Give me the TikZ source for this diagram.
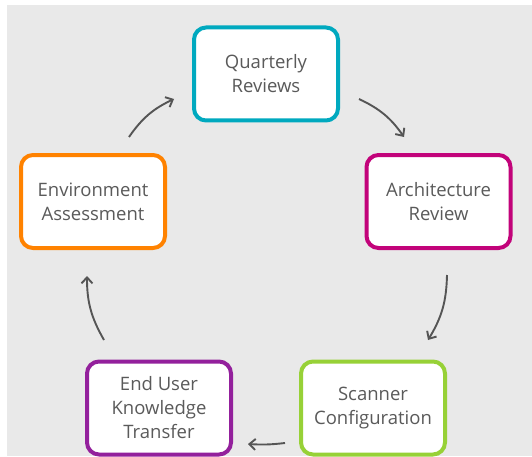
\documentclass[tikz,border=0pt]{standalone}
\usepackage{fontspec}
\setmainfont{Open Sans}
\usetikzlibrary{arrows.meta}
\definecolor{bggray}{HTML}{E9E9E9}
\definecolor{textgray}{HTML}{5A5A5A}
\definecolor{arrowgray}{HTML}{555555}
\definecolor{qteal}{HTML}{00A9BF}
\definecolor{aorange}{HTML}{FF8200}
\definecolor{rmagenta}{HTML}{C2037A}
\definecolor{sgreen}{HTML}{97D137}
\definecolor{kpurple}{HTML}{93209C}
\tikzset{
  stage/.style={draw, line width=4pt, rounded corners=12pt, fill=white,
    minimum width=144pt, minimum height=93pt, align=center, text=textgray,
    font=\fontsize{18.5}{24}\selectfont},
  flow/.style={draw=arrowgray, line width=1.9pt, -{Straight Barb[length=6pt,width=11pt]}}
}
\begin{document}
\begin{tikzpicture}[x=1pt,y=1pt]
\useasboundingbox (0,0) rectangle (532,456);
\fill [bggray] (7,0) rectangle (532,451);
% the five stages
\node [stage,draw=qteal] (qr) at (266,382) {Quarterly\\Reviews};
\node [stage,draw=rmagenta] (arch) at (438.5,254.5) {Architecture\\Review};
\node [stage,draw=sgreen] (scan) at (373,48) {Scanner\\Configuration};
\node [stage,draw=kpurple] (user) at (159,48) {End User\\Knowledge\\Transfer};
\node [stage,draw=aorange] (env) at (93,254.5) {Environment\\Assessment};
% the cycle
\draw [flow] ([xshift=36pt,yshift=16pt]env.north) to [bend left=15] ([xshift=-18pt,yshift=-25pt]qr.west);
\draw [flow] ([xshift=19pt,yshift=-25pt]qr.east) to [bend left=15] ([xshift=-34.5pt,yshift=16pt]arch.north);
\draw [flow] ([xshift=8.5pt,yshift=-25pt]arch.south) to [bend left=15] ([xshift=55pt,yshift=19.5pt]scan.north);
\draw [flow] ([xshift=-14pt,yshift=-35pt]scan.west) to [bend left=5] ([xshift=15pt,yshift=-36pt]user.east);
\draw [flow] ([xshift=-55pt,yshift=19.5pt]user.north) to [bend left=15] ([xshift=-6pt,yshift=-26pt]env.south);
\end{tikzpicture}
\end{document}
